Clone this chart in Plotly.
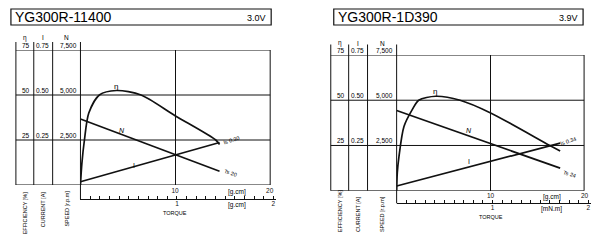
import plotly.graph_objects as go

W, H = 600, 240
def px(x): return x / W
def py(y): return 1 - y / H

# ---------------- data ----------------
L_name, L_volt = "YG300R-11400", "3.0V"
L_lin_torque = [0, 14.7]                 # g.cm
L_speed = [3670, 760]                    # r.p.m
L_current = [0.018, 0.236]               # A
L_eff_torque = [0, 0.15, 0.42, 0.88, 2.0, 3.8, 6.4, 10, 14.3, 14.7]
L_eff = [0, 12, 25, 40, 50, 52.5, 50, 38.5, 25, 22.5]   # %
L_is, L_ts = "Is 0.30", "Ts 20"
L_unit2 = "[g.cm]"

R_name, R_volt = "YG300R-1D390", "3.9V"
R_lin_torque = [0, 17.4]
R_speed = [4430, 1245]
R_current = [0.026, 0.263]
R_eff_torque = [0, 0.07, 0.25, 0.78, 1.66, 2.35, 4.16, 6.75, 10, 16.3, 17.4]
R_eff = [0, 10, 19, 35.5, 44.8, 50, 52.2, 50, 43, 25, 22]
R_is, R_ts = "Is 0.34", "Ts 24"
R_unit2 = "[mN.m]"

eff_ticks = [25, 50, 75]
cur_ticks = ["0.25", "0.50", "0.75"]
spd_ticks = ["2,500", "5,000", "7,500"]
col_heads = ["η", "I", "N"]
col_titles = ["EFFICIENCY [%]", "CURRENT [A]", "SPEED [r.p.m]"]
torque_ticks = [10, 20]
mnm_ticks = [1, 2]
GCM_PER_MNM = 10.197

FONT = "Liberation Sans, Arial, sans-serif"
LC = "#111"

charts = [
    dict(name=L_name, volt=L_volt, lt=L_lin_torque, spd=L_speed, cur=L_current,
         et=L_eff_torque, eff=L_eff, is_=L_is, ts=L_ts, unit2=L_unit2,
         cols=[16, 34, 53], x0=81, x20=271.5, xr=272, ytop=50, ybot=185, coltop=42,
         tick_y=199.3, box=(11, 9, 273, 25), head_y=37.5, rot=(190, "top"),
         ax=("x", "y", "x3"),
         lab=dict(eta=(3.8, 55), N=(4.4, 30.5), I=(5.7, 10.8), Is=(16.0, 25.2), Ts=(15.9, 6.8))),
    dict(name=R_name, volt=R_volt, lt=R_lin_torque, spd=R_speed, cur=R_current,
         et=R_eff_torque, eff=R_eff, is_=R_is, ts=R_ts, unit2=R_unit2,
         cols=[333, 351, 370], x0=399.3, x20=588.5, xr=588, ytop=55, ybot=190.7, coltop=44.5,
         tick_y=203.3, box=(336, 9, 587, 25), head_y=43, rot=(233, "bottom"),
         ax=("x2", "y2", "x4"),
         lab=dict(eta=(4.1, 54.6), N=(7.65, 33), I=(7.65, 16.3), Is=(18.3, 27.3), Ts=(18.4, 9.2))),
]

fig = go.Figure()
shapes, annos = [], []
layout_axes = {}

for i, c in enumerate(charts):
    xa, ya, xt = c["ax"]
    xkey = "xaxis" if xa == "x" else "xaxis" + xa[1:]
    ykey = "yaxis" if ya == "y" else "yaxis" + ya[1:]
    tkey = "xaxis" + xt[1:]
    pxu = (c["x20"] - c["x0"]) / 20.0   # px per g.cm

    # curves (N scaled 7500->75, I scaled 0.75->75)
    fig.add_trace(go.Scatter(x=c["et"], y=c["eff"], mode="lines", xaxis=xa, yaxis=ya,
                             line=dict(color=LC, width=1.7, shape="spline", smoothing=0.8),
                             hoverinfo="skip", showlegend=False))
    fig.add_trace(go.Scatter(x=c["lt"], y=[v / 100 for v in c["spd"]], mode="lines",
                             xaxis=xa, yaxis=ya, line=dict(color=LC, width=1.7),
                             hoverinfo="skip", showlegend=False))
    fig.add_trace(go.Scatter(x=c["lt"], y=[v * 100 for v in c["cur"]], mode="lines",
                             xaxis=xa, yaxis=ya, line=dict(color=LC, width=1.7),
                             hoverinfo="skip", showlegend=False))
    # invisible trace to carry the mN.m axis
    fig.add_trace(go.Scatter(x=[0], y=[0], mode="markers", xaxis=xt, yaxis=ya,
                             marker=dict(opacity=0), hoverinfo="skip", showlegend=False))

    layout_axes[xkey] = dict(domain=[px(c["x0"]), px(c["x20"])], range=[0, 20], anchor=ya,
                             tickvals=torque_ticks, ticktext=[str(t) for t in torque_ticks],
                             ticks="", showline=False, zeroline=False,
                             showgrid=True, gridcolor=LC, gridwidth=1,
                             tickfont=dict(size=6.5, family=FONT, color=LC), fixedrange=True)
    layout_axes[ykey] = dict(domain=[py(c["ybot"]), py(c["ytop"])], range=[0, 75], anchor=xa,
                             showticklabels=False, showgrid=False, zeroline=False,
                             showline=False, ticks="", fixedrange=True)
    t_end = c["x0"] + 2.03 * GCM_PER_MNM * pxu
    tv = [round(k * 0.1, 1) for k in range(1, 21)]
    layout_axes[tkey] = dict(domain=[px(c["x0"]), px(t_end)],
                             range=[0, 2.03], anchor="free", position=py(c["tick_y"]),
                             showline=True, linecolor=LC, linewidth=1,
                             ticks="inside", ticklen=3, tickcolor=LC, tickwidth=1,
                             tickvals=tv, ticklabelstandoff=-2,
                             ticktext=[(str(int(v)) if v in mnm_ticks else "") for v in tv],
                             showgrid=False, zeroline=False,
                             tickfont=dict(size=6.5, family=FONT, color=LC), fixedrange=True)

    # frame lines
    left = c["cols"][0]
    for v in eff_ticks:
        shapes.append(dict(type="line", xref="paper", yref=ya, x0=px(left), x1=px(c["xr"]),
                           y0=v, y1=v, line=dict(color=LC, width=1)))
    shapes.append(dict(type="line", xref="paper", yref=ya, x0=px(left), x1=px(c["xr"]),
                       y0=0, y1=0, line=dict(color=LC, width=1)))
    for cx in c["cols"]:
        shapes.append(dict(type="line", xref="paper", yref="paper", x0=px(cx), x1=px(cx),
                           y0=py(c["coltop"]), y1=py(c["ybot"]), line=dict(color=LC, width=1)))
    shapes.append(dict(type="line", xref="paper", yref="paper", x0=px(c["x0"]), x1=px(c["x0"]),
                       y0=py(c["coltop"]), y1=py(c["tick_y"]), line=dict(color=LC, width=1)))
    shapes.append(dict(type="line", xref="paper", yref="paper", x0=px(c["xr"]), x1=px(c["xr"]),
                       y0=py(c["ytop"]), y1=py(c["ybot"]), line=dict(color=LC, width=1)))
    bx0, by0, bx1, by1 = c["box"]
    shapes.append(dict(type="rect", xref="paper", yref="paper", x0=px(bx0), x1=px(bx1),
                       y0=py(by0), y1=py(by1), line=dict(color=LC, width=1.2)))

    # title texts
    annos.append(dict(xref="paper", yref="paper", x=px(bx0 + 2.5), y=py((by0 + by1) / 2 + 0.5),
                      xanchor="left", yanchor="middle", showarrow=False, text=c["name"],
                      font=dict(size=14, family=FONT, color="#000")))
    annos.append(dict(xref="paper", yref="paper", x=px(bx1 - 3), y=py((by0 + by1) / 2 + 1),
                      xanchor="right", yanchor="middle", showarrow=False, text=c["volt"],
                      font=dict(size=9, family=FONT, color="#000")))

    # column headings, tick texts, rotated titles
    edges = c["cols"] + [c["x0"]]
    tick_sets = [[str(v) for v in eff_ticks], cur_ticks, spd_ticks]
    for k in range(3):
        a, b = edges[k], edges[k + 1]
        annos.append(dict(xref="paper", yref="paper", x=px((a + b) / 2), y=py(c["head_y"]),
                          xanchor="center", yanchor="middle", showarrow=False, text=col_heads[k],
                          font=dict(size=6.5, family=FONT, color="#000")))
        for j, v in enumerate(eff_ticks):
            annos.append(dict(xref="paper", yref=ya, x=px(b - 2.5), y=v,
                              xanchor="right", yanchor="bottom", showarrow=False,
                              text=tick_sets[k][j], borderpad=0,
                              font=dict(size=6.5, family=FONT, color="#000")))
        ry, ranc = c["rot"]
        annos.append(dict(xref="paper", yref="paper", x=px((a + b) / 2), y=py(ry),
                          xanchor="center", yanchor=ranc, showarrow=False, textangle=-90,
                          text=col_titles[k], borderpad=0,
                          font=dict(size=5.5, family=FONT, color="#000")))

    # unit labels and TORQUE
    annos.append(dict(xref=xa, yref="paper", x=16.5, y=py(c["ybot"] + 1.5), xanchor="center",
                      yanchor="top", showarrow=False, text="[g.cm]", borderpad=0,
                      font=dict(size=6.5, family=FONT, color="#000")))
    annos.append(dict(xref=xa, yref="paper", x=16.5, y=py(c["tick_y"] + 0.8), xanchor="center",
                      yanchor="top", showarrow=False, text=c["unit2"], borderpad=0,
                      font=dict(size=6.5, family=FONT, color="#000")))
    annos.append(dict(xref=xa, yref="paper", x=10, y=py(c["tick_y"] + 13.5), xanchor="center",
                      yanchor="middle", showarrow=False, text="TORQUE", borderpad=0,
                      font=dict(size=5.5, family=FONT, color="#000")))

    # curve labels
    lb = c["lab"]
    annos.append(dict(xref=xa, yref=ya, x=lb["eta"][0], y=lb["eta"][1], showarrow=False,
                      text="η", font=dict(size=8, family=FONT, color="#000")))
    annos.append(dict(xref=xa, yref=ya, x=lb["N"][0], y=lb["N"][1], showarrow=False,
                      text="<i>N</i>", font=dict(size=7, family=FONT, color="#000")))
    annos.append(dict(xref=xa, yref=ya, x=lb["I"][0], y=lb["I"][1], showarrow=False,
                      text="I", font=dict(size=7, family=FONT, color="#000")))
    annos.append(dict(xref=xa, yref=ya, x=lb["Is"][0], y=lb["Is"][1], showarrow=False,
                      text=c["is_"], textangle=-18, font=dict(size=5.5, family=FONT, color="#000")))
    annos.append(dict(xref=xa, yref=ya, x=lb["Ts"][0], y=lb["Ts"][1], showarrow=False,
                      text=c["ts"], textangle=18, font=dict(size=5.5, family=FONT, color="#000")))

fig.update_layout(width=W, height=H, margin=dict(l=0, r=0, t=0, b=0),
                  paper_bgcolor="white", plot_bgcolor="rgba(0,0,0,0)",
                  shapes=shapes, annotations=annos, showlegend=False, **layout_axes)
fig.write_html("out.html", config={"displayModeBar": False})
